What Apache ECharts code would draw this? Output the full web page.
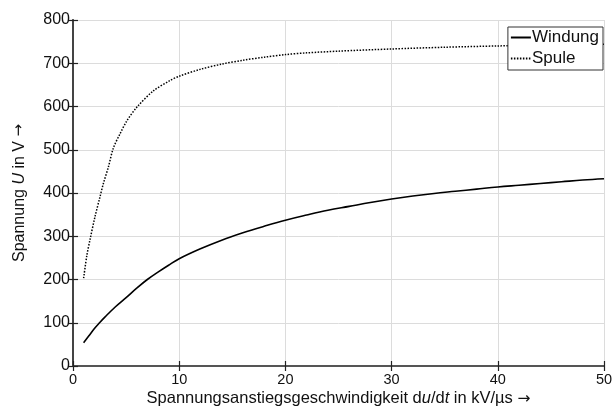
<!DOCTYPE html>
<html>
<head>
<meta charset="utf-8">
<script src="https://cdn.jsdelivr.net/npm/echarts@6/dist/echarts.min.js"></script>
<style>html,body{margin:0;padding:0;background:#fff;}#c{width:614px;height:407px;}</style>
</head>
<body>
<div id="c"></div>
<script>
var windungX = [1, 1.5, 2, 2.5, 3, 4, 5, 6, 7, 8, 9, 10, 12, 14, 16, 18, 20, 22, 24, 26, 28, 30, 32, 34, 36, 38, 40, 42, 44, 46, 48, 50];
var windungY = [54, 70, 86, 100, 113, 137, 158, 180, 200, 217, 233, 248, 271, 291, 308, 323, 337, 349, 360, 369, 378, 386, 393, 399, 404, 409, 414, 418, 422, 426, 430, 433];
var spuleX = [1, 1.3, 1.6, 2.07, 2.54, 2.86, 3.33, 3.8, 4.43, 5.05, 6, 7.56, 9.13, 10, 12, 14, 16, 18, 20, 22, 25, 30, 35, 40, 45, 50];
var spuleY = [203, 255, 292, 345, 391, 422, 460, 504, 537, 566, 598, 636, 660, 670, 686, 698, 707, 714, 720, 724, 728, 733, 737, 740, 742, 744];
var xTicks = [0, 10, 20, 30, 40, 50];
var yTicks = [0, 100, 200, 300, 400, 500, 600, 700, 800];

function pairs(xs, ys) { return xs.map(function (x, i) { return [x, ys[i]]; }); }

var chart = echarts.init(document.getElementById('c'));
var font = 'Liberation Sans, Arial, sans-serif';
function axisStyle(color, w) {
  return {
    axisLine: { show: true, lineStyle: { color: color, width: w } },
    axisTick: { show: true, inside: true, length: 5, lineStyle: { color: '#222', width: 1.2 } }
  };
}
function nameRich(size) {
  return {
    a: { fontSize: size, lineHeight: 17, color: '#111', fontFamily: font },
    i: { fontSize: size, lineHeight: 17, color: '#111', fontFamily: font, fontStyle: 'italic' },
    r: { fontSize: size - 1, lineHeight: 17, color: '#111', fontFamily: 'DejaVu Sans' }
  };
}
chart.setOption({
  animation: false,
  backgroundColor: '#fff',
  textStyle: { fontFamily: font },
  grid: { left: 73, right: 10, top: 20, bottom: 41, containLabel: false, outerBoundsMode: 'none' },
  legend: {
    orient: 'vertical', right: 11, top: 27,
    backgroundColor: '#fff', borderColor: '#333', borderWidth: 1,
    padding: [2, 4, 3, 2], itemGap: 4, itemWidth: 20, itemHeight: 17,
    itemStyle: { opacity: 0 },
    textStyle: { fontSize: 17, color: '#111', fontFamily: font, padding: [0, 0, 0, -4] },
    data: ['Windung', 'Spule']
  },
  xAxis: [
    Object.assign({
      type: 'value', min: 0, max: 50, interval: 10,
      name: '{a|Spannungsanstiegsgeschwindigkeit d}{i|u}{a|/d}{i|t}{a| in kV/µs }{r|→}',
      nameLocation: 'middle', nameGap: 24, nameMoveOverlap: false,
      nameTextStyle: { lineHeight: 17, rich: nameRich(16.5) },
      axisLabel: { fontSize: 14.5, color: '#111', margin: 6, fontFamily: font },
      splitLine: { show: true, lineStyle: { color: '#dcdcdc', width: 1 } }
    }, axisStyle('#111', 1.5)),
    Object.assign({
      type: 'value', min: 0, max: 50, interval: 10, position: 'top',
      axisLabel: { show: false }, splitLine: { show: false }
    }, axisStyle('#555', 2))
  ],
  yAxis: [
    Object.assign({
      type: 'value', min: 0, max: 800, interval: 100,
      name: '{a|Spannung }{i|U}{a| in V }{r|→}',
      nameLocation: 'middle', nameGap: 45, nameRotate: 90, nameMoveOverlap: false,
      nameTextStyle: { lineHeight: 17, rich: nameRich(16) },
      axisLabel: { fontSize: 16, color: '#111', margin: 3, fontFamily: font },
      splitLine: { show: true, lineStyle: { color: '#dcdcdc', width: 1 } }
    }, axisStyle('#111', 1.5)),
    Object.assign({
      type: 'value', min: 0, max: 800, interval: 100, position: 'right',
      axisLabel: { show: false }, splitLine: { show: false }
    }, axisStyle('#444', 1.8))
  ],
  series: [
    { name: 'Windung', type: 'line', data: pairs(windungX, windungY), smooth: 0.4,
      symbol: 'none', lineStyle: { color: '#000', width: 1.6, type: 'solid' },
      itemStyle: { color: '#000' } },
    { name: 'Spule', type: 'line', data: pairs(spuleX, spuleY), smooth: 0.3,
      symbol: 'none', lineStyle: { color: '#000', width: 1.5, type: [1.5, 1.5] },
      itemStyle: { color: '#000' } }
  ]
});
</script>
</body>
</html>
